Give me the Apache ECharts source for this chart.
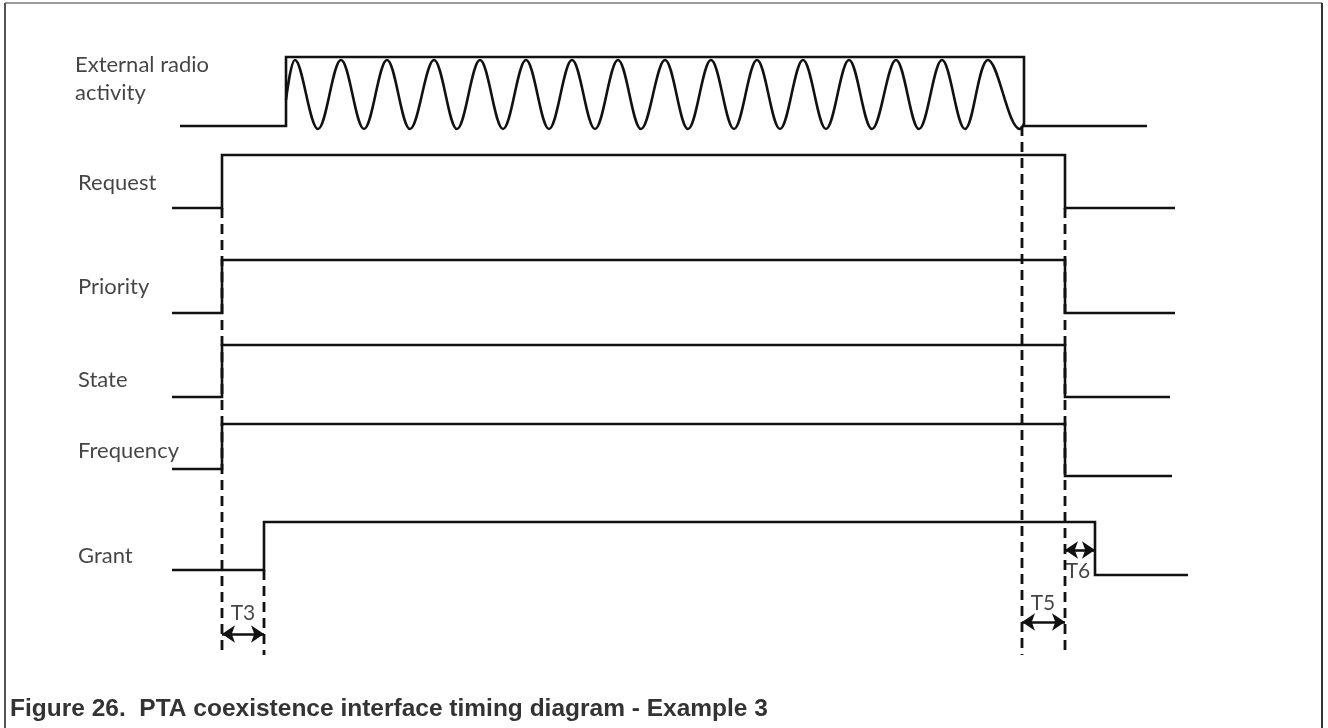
<!DOCTYPE html>
<html>
<head>
<meta charset="utf-8">
<script src="https://cdn.jsdelivr.net/npm/echarts@6/dist/echarts.min.js"></script>
<style>
html,body{margin:0;padding:0;background:#fff;}
#chart{width:1328px;height:728px;}
</style>
</head>
<body>
<div id="chart"></div>
<script>
// ---------- DATA (time in arbitrary units) ----------
const signalNames = ['External radio\nactivity', 'Request', 'Priority', 'State', 'Frequency', 'Grant'];
// edges: [start, rise, fall, end]
const extRadioEdges  = [0.8, 11.4, 85.2, 97.5];
const requestEdges   = [0, 5.0, 89.3, 100.3];
const priorityEdges  = [0, 5.0, 89.3, 100.3];
const stateEdges     = [0, 5.0, 89.3, 99.8];
const frequencyEdges = [0, 5.0, 89.3, 100.0];
const grantEdges     = [0, 9.2, 92.3, 101.6];
// radio carrier oscillation extremes (times)
const wavePeaks   = [12.3, 16.9, 21.5, 26.2, 30.8, 35.4, 40.0, 44.6, 49.3, 53.9, 58.5, 63.1, 67.7, 72.4, 77.0, 81.6];
const waveTroughs = [14.6, 19.2, 23.8, 28.5, 33.1, 37.7, 42.3, 46.9, 51.6, 56.2, 60.8, 65.4, 70.0, 74.7, 79.3, 84.8];
// timing intervals
const timingNames = ['T3', 'T5', 'T6'];
const timingFrom  = [5.0, 85.0, 89.3];
const timingTo    = [9.2, 89.3, 92.3];
// guide (dashed) line times
const guideTimes = [5.0, 9.2, 85.0, 89.3];
const captionText = 'Figure 26.  PTA coexistence interface timing diagram - Example 3';

// ---------- LAYOUT (vertical drawing units on the y scale) ----------
const lanes = [
  {hi: 57,  lo: 126, loEnd: 126, label: 79},
  {hi: 155, lo: 208, loEnd: 208, label: 183},
  {hi: 260, lo: 313, loEnd: 313, label: 287},
  {hi: 345, lo: 397, loEnd: 397, label: 380},
  {hi: 424, lo: 469, loEnd: 476, label: 451},
  {hi: 522, lo: 570, loEnd: 575, label: 556}
];
const waveHi = 60, waveLo = 129, waveStart = 100;
const guideTop = [208, 570, 126, 208], guideBottom = 655;
const arrowY = [634, 622, 550];
const timingLabelT = [7.1, 87.1, 90.6];
const timingLabelY = [613, 603, 571];
const labelT = [-9.7, -9.4, -9.4, -9.4, -9.4, -9.4];

const allEdges = [extRadioEdges, requestEdges, priorityEdges, stateEdges, frequencyEdges, grantEdges];
const ink = '#111';

const series = [];
allEdges.forEach((e, i) => {
  const L = lanes[i];
  series.push({
    type: 'line', xAxisIndex: 0, yAxisIndex: 0, symbol: 'none', silent: true, clip: false,
    lineStyle: {color: ink, width: 2.6, join: 'miter'},
    data: [[e[0], L.lo], [e[1], L.lo], [e[1], L.hi], [e[2], L.hi], [e[2], L.loEnd], [e[3], L.loEnd]]
  });
});

// wave
const wavePts = [[extRadioEdges[1], waveStart]];
for (let k = 0; k < wavePeaks.length; k++) {
  wavePts.push([wavePeaks[k], waveHi]);
  if (k < waveTroughs.length) wavePts.push([waveTroughs[k], waveLo]);
}
wavePts.push([extRadioEdges[2], 124]);
series.push({
  type: 'line', symbol: 'none', silent: true, smooth: 0.36, clip: false,
  lineStyle: {color: ink, width: 2.6},
  data: wavePts
});

// dashed guides
guideTimes.forEach((t, i) => {
  series.push({
    type: 'line', symbol: 'none', silent: true, clip: false,
    lineStyle: {color: ink, width: 2.8, type: [10, 6]},
    data: [[t, guideTop[i]], [t, guideBottom]]
  });
});

// arrows
series.push({
  type: 'line', symbol: 'none', silent: true, data: [],
  markLine: {
    silent: true, symbol: ['arrow', 'arrow'], symbolSize: [13, 13],
    label: {show: false},
    lineStyle: {color: ink, width: 2.6, type: 'solid'},
    data: timingNames.map((n, i) => [{coord: [timingFrom[i], arrowY[i]]}, {coord: [timingTo[i], arrowY[i]]}])
  }
});

// signal names
series.push({
  type: 'scatter', symbolSize: 0, silent: true,
  itemStyle: {color: 'transparent'},
  label: {show: true, position: [0, 0], align: 'left', verticalAlign: 'middle',
    formatter: p => p.data.name, fontFamily: 'Lato', fontSize: 22, color: '#151515', lineHeight: 28},
  data: signalNames.map((n, i) => ({name: n, value: [labelT[i], lanes[i].label]}))
});
// timing names
series.push({
  type: 'scatter', symbolSize: 0, silent: true,
  itemStyle: {color: 'transparent'},
  label: {show: true, position: [0, 0], align: 'center', verticalAlign: 'middle',
    formatter: p => p.data.name, fontFamily: 'Lato', fontSize: 21, color: '#151515'},
  data: timingNames.map((n, i) => ({name: n, value: [timingLabelT[i], timingLabelY[i]]}))
});

const chart = echarts.init(document.getElementById('chart'), null, {renderer: 'canvas'});
chart.setOption({
  animation: false,
  backgroundColor: '#fff',
  title: {
    text: captionText, left: 10, top: 697, padding: 0,
    textStyle: {fontFamily: 'Liberation Sans', fontWeight: 'bold', fontSize: 24.5, color: '#333'}
  },
  grid: {left: 0, right: 0, top: 0, bottom: 0},
  xAxis: {type: 'value', min: -17.2, max: 115.6, show: false},
  yAxis: {type: 'value', min: 0, max: 728, inverse: true, show: false},
  graphic: [
    {type: 'line', shape: {x1: 5, y1: 3, x2: 1322, y2: 3}, style: {stroke: '#9a9a9a', lineWidth: 2}},
    {type: 'line', shape: {x1: 5, y1: 3, x2: 5, y2: 728}, style: {stroke: '#555', lineWidth: 2}},
    {type: 'line', shape: {x1: 1322, y1: 3, x2: 1322, y2: 728}, style: {stroke: '#333', lineWidth: 2}}
  ],
  series: series
});
</script>
</body>
</html>
